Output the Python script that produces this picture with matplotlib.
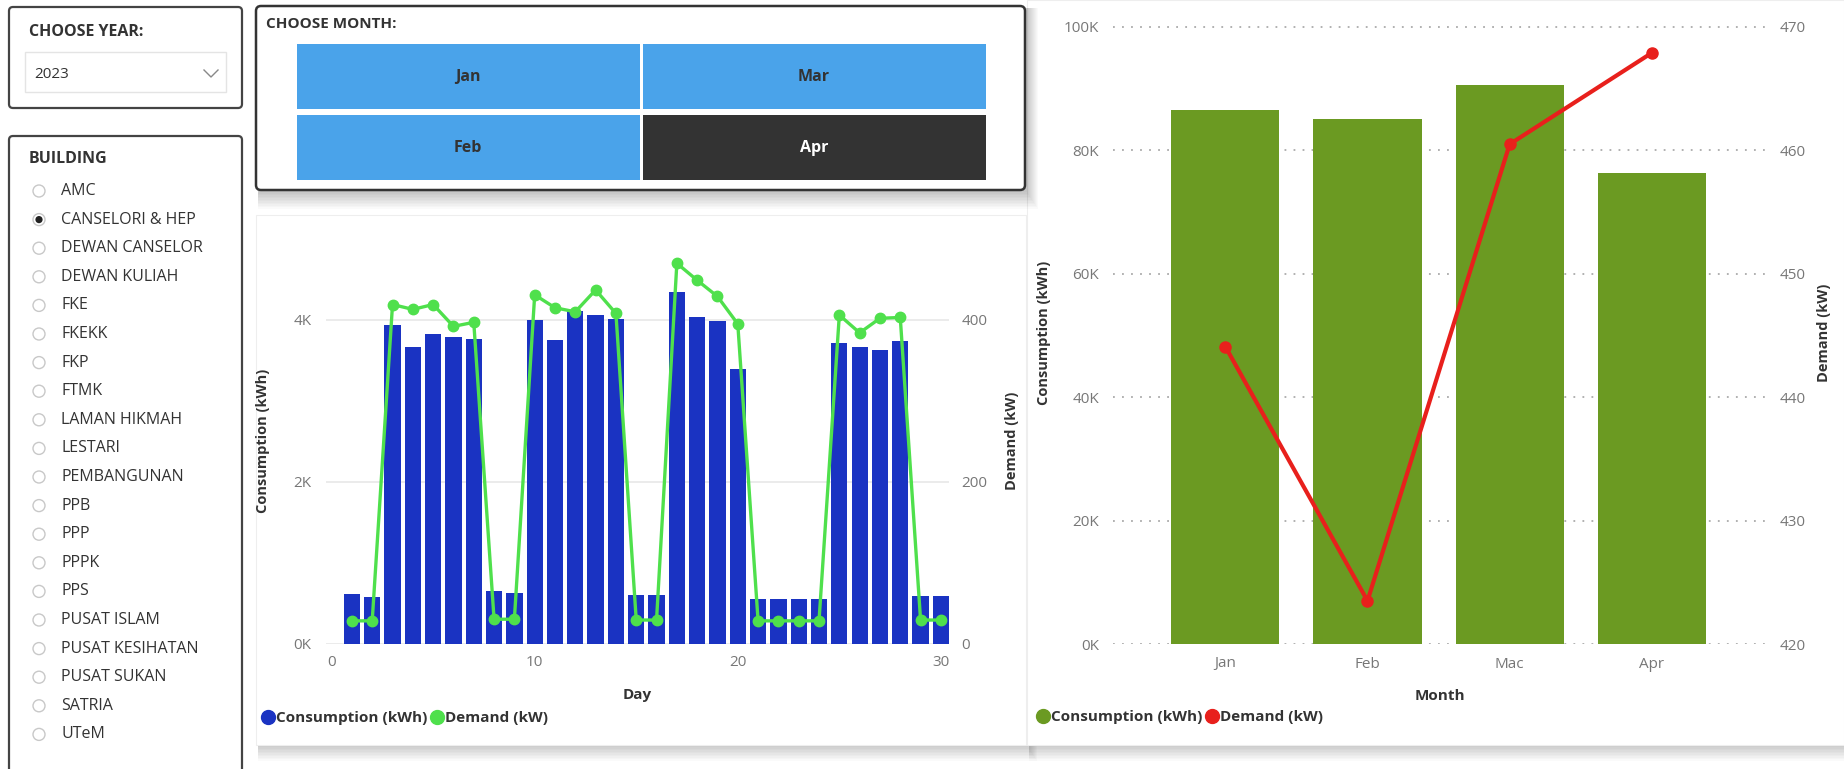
# dashboard energie : consommation journaliere et mensuelle

import matplotlib.pyplot as plt
from matplotlib.patches import Rectangle, FancyBboxPatch, Circle
from matplotlib.lines import Line2D
from matplotlib.ticker import FuncFormatter
import numpy as np

plt.rcParams['font.family'] = ['Open Sans', 'DejaVu Sans']

W, H = 1844, 769

YEARS = ["2023"]
MONTH_BUTTONS = ["Jan", "Mar", "Feb", "Apr"]
BUILDINGS = ["AMC", "CANSELORI & HEP", "DEWAN CANSELOR", "DEWAN KULIAH", "FKE",
             "FKEKK", "FKP", "FTMK", "LAMAN HIKMAH", "LESTARI", "PEMBANGUNAN",
             "PPB", "PPP", "PPPK", "PPS", "PUSAT ISLAM", "PUSAT KESIHATAN",
             "PUSAT SUKAN", "SATRIA", "UTeM"]
SELECTED_BUILDING = "CANSELORI & HEP"

days = list(range(1, 31))
consumption_day = [610, 575, 3940, 3670, 3820, 3790, 3770, 650, 630, 4000,
                   3750, 4110, 4060, 4010, 600, 600, 4340, 4030, 3990, 3390,
                   555, 555, 555, 555, 3710, 3670, 3630, 3740, 590, 590]
demand_day = [28, 28, 419, 413, 419, 392, 397, 30, 30, 431,
              415, 410, 437, 408, 29, 29, 470, 449, 429, 395,
              28, 28, 28, 28, 406, 384, 402, 403, 29, 29]

months = ["Jan", "Feb", "Mac", "Apr"]
consumption_month = [86500, 85100, 90600, 76300]
demand_month = [444.1, 423.5, 460.5, 467.9]

BLUE = "#1a33c2"
LIME = "#4fe04c"
OLIVE = "#6b9a22"
RED = "#e8201c"
TXT = "#333333"
TICK = "#777777"


def px_axes(fig, x0, y0, x1, y1):
    return fig.add_axes([x0 / W, 1 - y1 / H, (x1 - x0) / W, (y1 - y0) / H])


def shadow(bg, x0, y0, x1, y1, n=10):
    for i in range(n):
        bg.add_patch(Rectangle((x0 + 2, y0 + 2), x1 - x0 + i, y1 - y0 + i * 1.5,
                               fc="#000000", ec="none", alpha=0.018))


def k_fmt(v, pos):
    return "{}K".format(int(round(v / 1000)))


fig = plt.figure(figsize=(W / 100, H / 100), dpi=100)
fig.patch.set_facecolor("white")

bg = fig.add_axes([0, 0, 1, 1])
bg.set_xlim(0, W)
bg.set_ylim(H, 0)
bg.axis("off")

# cards
shadow(bg, 256, 215, 1026, 745)
bg.add_patch(Rectangle((256, 215), 770, 530, fc="white", ec="#eeeeee", lw=0.8))
shadow(bg, 1027, 0, 1844, 745)
bg.add_patch(Rectangle((1027, 0), 817, 745, fc="white", ec="#eeeeee", lw=0.8))

# year slicer
bg.add_patch(FancyBboxPatch((9, 7), 233, 101, boxstyle="round,pad=0,rounding_size=4",
                            fc="white", ec="#444444", lw=1.6))
bg.text(29, 32, "CHOOSE YEAR:", fontsize=11.5, fontweight="bold", color=TXT, va="center")
bg.add_patch(Rectangle((25, 52), 201, 40, fc="white", ec="#e4e4e4", lw=1))
bg.text(34, 74, YEARS[0], fontsize=11, color=TXT, va="center")
bg.plot([204, 211, 218], [70, 77, 70], color="#888888", lw=1.0)

# building slicer
bg.add_patch(FancyBboxPatch((9, 136), 233, 650, boxstyle="round,pad=0,rounding_size=4",
                            fc="white", ec="#444444", lw=1.6))
bg.text(29, 159, "BUILDING", fontsize=11.5, fontweight="bold", color=TXT, va="center")
for i, name in enumerate(BUILDINGS):
    yy = 191 + i * 28.6
    bg.add_patch(Circle((39, yy), 6, fc="white", ec="#c8c8c8", lw=1))
    if name == SELECTED_BUILDING:
        bg.add_patch(Circle((39, yy), 3.6, fc="#222222", ec="none"))
    bg.text(61, yy, name, fontsize=11.5, color=TXT, va="center")

# month slicer
shadow(bg, 256, 6, 1025, 190, n=12)
bg.add_patch(FancyBboxPatch((256, 6), 769, 184, boxstyle="round,pad=0,rounding_size=5",
                            fc="white", ec="#333333", lw=1.8))
bg.text(266, 24, "CHOOSE MONTH:", fontsize=11, fontweight="bold", color=TXT, va="center")
cells = [(297, 44), (643, 44), (297, 115), (643, 115)]
for (cx, cy), label in zip(cells, MONTH_BUTTONS):
    dark = label == "Apr"
    bg.add_patch(Rectangle((cx, cy), 343, 65, fc="#333333" if dark else "#4aa3ea", ec="none"))
    bg.text(cx + 171, cy + 33, label, fontsize=11.5, fontweight="bold",
            color="white" if dark else TXT, ha="center", va="center")

# daily chart
ax1 = px_axes(fig, 325.5, 239, 949, 643.5)
ax1.set_facecolor("none")
ax1.bar(days, consumption_day, width=0.8, color=BLUE, zorder=2)
ax1.set_xlim(-0.3, 30.4)
ax1.set_ylim(0, 5000)
ax1.set_yticks([0, 2000, 4000])
ax1.yaxis.set_major_formatter(FuncFormatter(k_fmt))
ax1.set_xticks([0, 10, 20, 30])
ax1.grid(axis="y", color="#e8e8e8", lw=1.2)
ax1.set_axisbelow(True)
ax1.tick_params(length=0, labelsize=11, labelcolor=TICK)
ax1.tick_params(axis="y", pad=10)
ax1.tick_params(axis="x", pad=8)
ax1.set_xlabel("Day", fontsize=11, fontweight="bold", color=TXT)
ax1.xaxis.set_label_coords(0.5, -0.11)
ax1.set_ylabel("Consumption (kWh)", fontsize=10.5, fontweight="bold", color=TXT)
ax1.yaxis.set_label_coords(-0.089, 0.5)
for s in ax1.spines.values():
    s.set_visible(False)

ax1r = ax1.twinx()
ax1r.plot(days, demand_day, color=LIME, lw=2.4, marker="o", ms=7.5, zorder=3, clip_on=False)
ax1r.set_ylim(0, 500)
ax1r.set_yticks([0, 200, 400])
ax1r.tick_params(length=0, labelsize=11, labelcolor=TICK, pad=9)
ax1r.set_ylabel("Demand (kW)", fontsize=10.5, fontweight="bold", color=TXT, rotation=90)
ax1r.yaxis.set_label_coords(1.09, 0.5)
for s in ax1r.spines.values():
    s.set_visible(False)

fig.legend(handles=[Line2D([], [], ls="", marker="o", ms=10, color=BLUE),
                    Line2D([], [], ls="", marker="o", ms=10, color=LIME)],
           labels=["Consumption (kWh)", "Demand (kW)"],
           loc="center left", bbox_to_anchor=(263 / W, 1 - 718 / H), ncol=2,
           frameon=False, handlelength=0.7, handletextpad=0.15, columnspacing=0.3,
           borderpad=0, borderaxespad=0, prop={"size": 11, "weight": "bold"},
           labelcolor=TXT)

# monthly chart
x = np.arange(len(months))
ax2 = px_axes(fig, 1113, 22, 1767, 644)
ax2.set_facecolor("none")
ax2.bar(x, consumption_month, width=0.76, color=OLIVE, zorder=2)
ax2.set_xlim(-0.79, 3.81)
ax2.set_ylim(0, 100800)
ax2.set_yticks(np.arange(0, 100001, 20000))
ax2.yaxis.set_major_formatter(FuncFormatter(k_fmt))
ax2.set_xticks(x)
ax2.set_xticklabels(months)
ax2.grid(axis="y", color="#aaaaaa", lw=1.3, ls=(0, (1, 4)))
ax2.set_axisbelow(True)
ax2.tick_params(length=0, labelsize=11, labelcolor=TICK)
ax2.tick_params(axis="y", pad=10)
ax2.tick_params(axis="x", pad=9)
ax2.set_xlabel("Month", fontsize=11, fontweight="bold", color=TXT)
ax2.xaxis.set_label_coords(0.5, -0.072)
ax2.set_ylabel("Consumption (kWh)", fontsize=10.5, fontweight="bold", color=TXT)
ax2.yaxis.set_label_coords(-0.095, 0.5)
for s in ax2.spines.values():
    s.set_visible(False)

ax2r = ax2.twinx()
ax2r.plot(x, demand_month, color=RED, lw=3, marker="o", ms=8, zorder=3, clip_on=False)
ax2r.set_ylim(420, 470.4)
ax2r.set_yticks([420, 430, 440, 450, 460, 470])
ax2r.tick_params(length=0, labelsize=11, labelcolor=TICK, pad=9)
ax2r.set_ylabel("Demand (kW)", fontsize=10.5, fontweight="bold", color=TXT, rotation=90)
ax2r.yaxis.set_label_coords(1.076, 0.5)
for s in ax2r.spines.values():
    s.set_visible(False)

fig.legend(handles=[Line2D([], [], ls="", marker="o", ms=10, color=OLIVE),
                    Line2D([], [], ls="", marker="o", ms=10, color=RED)],
           labels=["Consumption (kWh)", "Demand (kW)"],
           loc="center left", bbox_to_anchor=(1038 / W, 1 - 717 / H), ncol=2,
           frameon=False, handlelength=0.7, handletextpad=0.15, columnspacing=0.3,
           borderpad=0, borderaxespad=0, prop={"size": 11, "weight": "bold"},
           labelcolor=TXT)

fig.savefig("out.png", dpi=100)
